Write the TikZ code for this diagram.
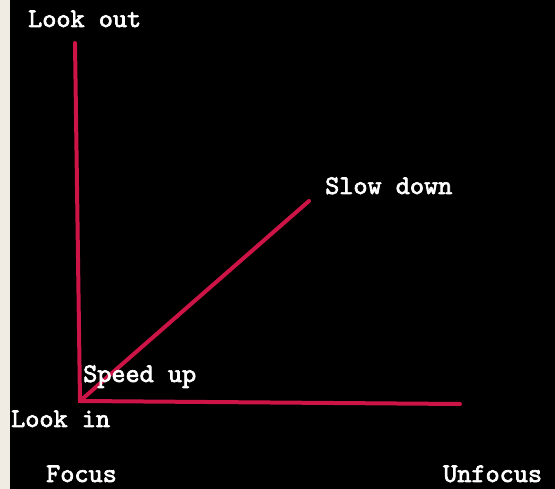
\documentclass[tikz,border=0pt]{standalone}
\usepackage{fontspec}
\setmonofont{lmmono10-regular.otf}[BoldFont=lmmono10-regular.otf, BoldFeatures={FakeBold=2.5}]
\definecolor{axisred}{RGB}{205,20,70}
\definecolor{sidebar}{RGB}{240,236,228}
\tikzset{
  lbl/.style={anchor=base west, inner sep=0pt, text=white,
    font=\ttfamily\bfseries\fontsize{26.9}{30}\selectfont},
  axis/.style={axisred, line width=4pt, line cap=round}
}

\begin{document}
\begin{tikzpicture}[x=1pt, y=-1pt]
        \useasboundingbox (0,0) rectangle (555,489);
        \fill[sidebar] (0,0) rectangle (10,489);
        \fill[black] (10,0) rectangle (555,489);

        % Axes
        \coordinate (origin) at (80,401);
        \coordinate (top) at (75,43);
        \coordinate (right) at (460,404);
        \coordinate (diag) at (309,201);
        \draw[axis] (top) -- (origin) -- (right);
        \draw[axis] (origin) -- (diag);

        % Labels
        \node[lbl] (lookout) at (28,27) {Look out};
        \node[lbl] (slowdown) at (325,194) {Slow down};
        \node[lbl] (speedup) at (83,382) {Speed up};
        \node[lbl] (lookin) at (11,427) {Look in};
        \node[lbl] (focus) at (46,482) {Focus};
        \node[lbl] (unfocus) at (443,482) {Unfocus};

    \end{tikzpicture}
\end{document}
